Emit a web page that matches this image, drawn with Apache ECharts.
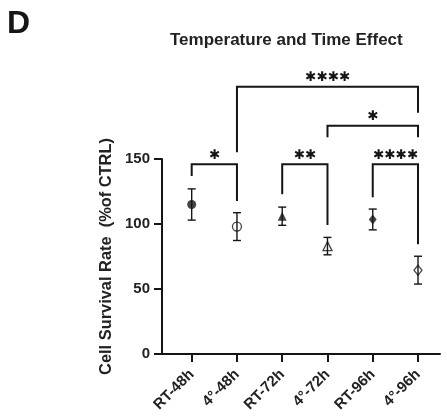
<!DOCTYPE html>
<html>
<head>
<meta charset="utf-8">
<script src="https://cdn.jsdelivr.net/npm/echarts@6/dist/echarts.min.js"></script>
<style>html,body{margin:0;padding:0;background:#fff}#c{width:447px;height:418px}</style>
</head>
<body>
<div id="c"></div>
<script>
const categories = ['RT-48h', '4°-48h', 'RT-72h', '4°-72h', 'RT-96h', '4°-96h'];
const means = [115, 98, 106, 83, 103.5, 64.5];
const errors = [12, 10.7, 7, 6.7, 8, 10.7];
const yTicks = [0, 50, 100, 150];
const catIndex = [0, 1, 2, 3, 4, 5];
const xMin = -0.656, xMax = 5.486;

const bracketFrom = [0, 2, 4, 1, 3];
const bracketTo = [1, 3, 5, 5, 5];
const bracketTop = [146, 146, 146, 205.6, 175.6];
const bracketLeftEnd = [137, 122.8, 120.5, 155.2, 166.7];
const bracketRightEnd = [117.7, 99.2, 84.4, 185.6, 166.7];
const bracketLabels = ['*', '**', '****', '****', '*'];

// marker styles (not data)
const markerSymbols = ['circle', 'circle', 'triangle', 'triangle', 'diamond', 'diamond'];
const markerFilled = [true, false, true, false, true, false];
const markerSizes = [9, 9, 9, 9, [8, 10], [8, 10]];

const INK = '#151515';
const FONT = '"Liberation Sans", Arial, sans-serif';

const chart = echarts.init(document.getElementById('c'), null, { renderer: 'canvas' });

const option = {
  animation: false,
  backgroundColor: '#fff',
  title: [
    { text: 'D', left: 7, top: 8, padding: 0,
      textStyle: { fontSize: 32, fontWeight: 'bold', color: INK, fontFamily: FONT } },
    { text: 'Temperature and Time Effect', left: 170, top: 32, padding: 0,
      textStyle: { fontSize: 17, fontWeight: 'bold', color: '#222', fontFamily: FONT } }
  ],
  grid: { left: 162, right: 7, top: 159, bottom: 64, containLabel: false },
  xAxis: {
    type: 'value',
    min: xMin,
    max: xMax,
    splitLine: { show: false },
    axisLine: { show: true, onZero: false, lineStyle: { color: INK, width: 2 } },
    axisTick: { show: true, customValues: catIndex, length: 8, lineStyle: { color: INK, width: 2 } },
    axisLabel: {
      customValues: catIndex,
      formatter: v => categories[Math.round(v)],
      rotate: 45, margin: 18,
      fontSize: 15, fontWeight: 'bold', color: '#222', fontFamily: FONT
    }
  },
  yAxis: {
    type: 'value',
    min: 0, max: 150, interval: 50,
    splitLine: { show: false },
    axisLine: { show: true, onZero: false, lineStyle: { color: INK, width: 2 } },
    axisTick: { show: false },
    axisLabel: {
      customValues: yTicks,
      margin: 12, fontSize: 15, fontWeight: 'bold', color: '#222', fontFamily: FONT
    },
    name: 'Cell Survival Rate  (%of CTRL)',
    nameLocation: 'middle',
    nameGap: 46,
    nameTextStyle: { fontSize: 16.4, fontWeight: 'bold', color: '#222', fontFamily: FONT }
  },
  series: [
    {
      type: 'custom',
      name: 'yticks',
      z: 5,
      clip: false,
      silent: true,
      data: yTicks.map(v => [xMin, v]),
      renderItem: function (params, api) {
        const p = api.coord([api.value(0), api.value(1)]);
        return { type: 'line', shape: { x1: p[0] - 8, y1: p[1], x2: p[0], y2: p[1] },
          style: { stroke: INK, lineWidth: 2 } };
      }
    },
    {
      type: 'custom',
      name: 'errors',
      z: 2,
      clip: false,
      data: catIndex.map(i => [i, means[i] - errors[i], means[i] + errors[i]]),
      renderItem: function (params, api) {
        const x = api.value(0);
        const lo = api.coord([x, api.value(1)]);
        const hi = api.coord([x, api.value(2)]);
        const cap = 4;
        const style = { stroke: INK, lineWidth: 1.4, fill: null };
        return {
          type: 'group',
          children: [
            { type: 'line', shape: { x1: lo[0], y1: lo[1], x2: hi[0], y2: hi[1] }, style },
            { type: 'line', shape: { x1: lo[0] - cap, y1: lo[1], x2: lo[0] + cap, y2: lo[1] }, style },
            { type: 'line', shape: { x1: hi[0] - cap, y1: hi[1], x2: hi[0] + cap, y2: hi[1] }, style }
          ]
        };
      }
    },
    {
      type: 'scatter',
      name: 'means',
      z: 3,
      data: catIndex.map(i => ({
        value: [i, means[i]],
        symbol: markerSymbols[i],
        symbolSize: markerSizes[i],
        itemStyle: {
          color: markerFilled[i] ? INK : 'rgba(255,255,255,0)',
          borderColor: INK,
          borderWidth: markerFilled[i] ? 0 : 1.3
        }
      }))
    },
    {
      type: 'custom',
      name: 'brackets',
      z: 4,
      clip: false,
      data: bracketFrom.map((f, k) => [f, bracketTo[k], bracketTop[k], bracketLeftEnd[k], bracketRightEnd[k], k]),
      renderItem: function (params, api) {
        const a = api.value(0), b = api.value(1);
        const top = api.value(2), le = api.value(3), re = api.value(4);
        const k = api.value(5);
        const p1 = api.coord([a, le]);
        const p2 = api.coord([a, top]);
        const p3 = api.coord([b, top]);
        const p4 = api.coord([b, re]);
        return {
          type: 'group',
          children: [
            { type: 'polyline', shape: { points: [p1, p2, p3, p4] },
              style: { stroke: INK, lineWidth: 2, fill: null, lineJoin: 'miter' } },
            { type: 'text',
              x: (p2[0] + p3[0]) / 2, y: p2[1] - 9,
              style: { text: bracketLabels[k].replace(/\*/g, '\u2731'), fill: INK, fontSize: 13.5,
                fontFamily: '"DejaVu Sans", sans-serif', fontWeight: 'bold',
                align: 'center', verticalAlign: 'middle' } }
          ]
        };
      }
    }
  ]
};

chart.setOption(option);
</script>
</body>
</html>
